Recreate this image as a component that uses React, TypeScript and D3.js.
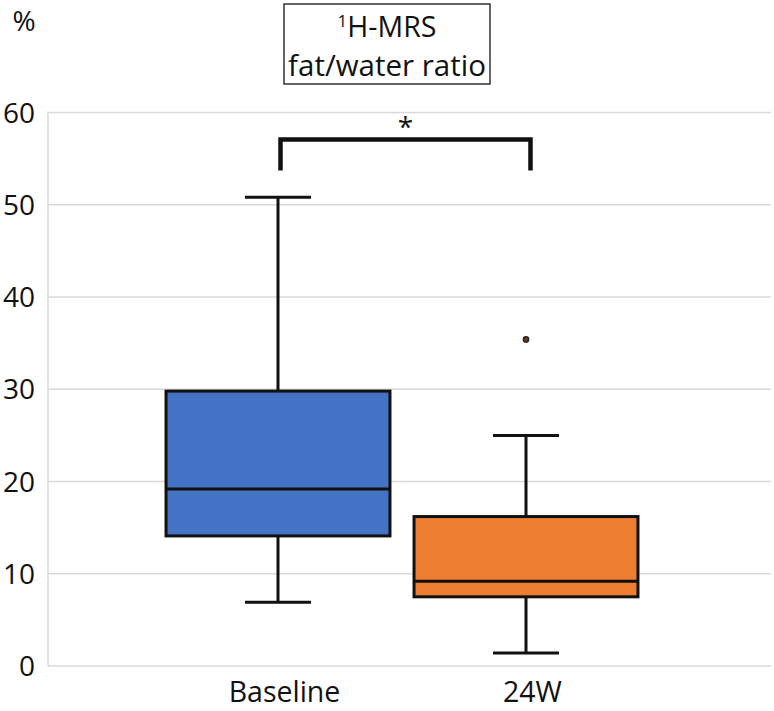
import React from "react";
import * as d3 from "d3";

const categories = ["Baseline", "24W"];
const mins = [6.9, 1.4];
const q1s = [14.1, 7.5];
const medians = [19.2, 9.2];
const q3s = [29.8, 16.2];
const maxs = [50.8, 25.0];
const outliers: number[][] = [[], [35.4]];
const colors = ["#4472C4", "#ED7D31"];
const yTicks = [0, 10, 20, 30, 40, 50, 60];

const W = 774;
const H = 711;
const FONT = "'Open Sans', 'Noto Sans', sans-serif";

export default function App() {
  const y = d3.scaleLinear().domain([0, 60]).range([666, 112.5]);
  const x = d3.scaleBand<string>().domain(categories).range([154, 650]).paddingInner(0).paddingOuter(0);
  const step = x.step();
  const boxW = step * 0.903;
  const capW = 66;
  const plotLeft = 48;
  const plotRight = 771;
  const cx = (c: string) => (x(c) as number) + step / 2;

  const bx1 = cx(categories[0]) + 2.5;
  const bx2 = cx(categories[1]) + 4.5;
  const bracketY = 139.5;
  const bracketBottom = 170.5;

  return (
    <svg width={W} height={H} style={{ position: "absolute", left: 0, top: 0, background: "#fff" }}>
      <rect x={0} y={0} width={W} height={H} fill="#fff" />
      {yTicks.map((t) => (
        <line key={t} x1={plotLeft} x2={plotRight} y1={y(t)} y2={y(t)} stroke="#d9d9d9" strokeWidth={1.5} />
      ))}
      <line x1={plotLeft} x2={plotLeft} y1={y(60)} y2={y(0)} stroke="#d9d9d9" strokeWidth={1.5} />
      {yTicks.map((t) => (
        <text key={t} x={35} y={y(t)} dy="0.36em" textAnchor="end" fontFamily={FONT} fontSize={28} fill="#111">
          {t}
        </text>
      ))}
      <text x={24} y={31} textAnchor="middle" fontFamily={FONT} fontSize={28} fill="#111">%</text>

      {categories.map((c, i) => {
        const m = cx(c);
        return (
          <g key={c}>
            <line x1={m} x2={m} y1={y(q3s[i])} y2={y(maxs[i])} stroke="#111" strokeWidth={3} />
            <line x1={m} x2={m} y1={y(q1s[i])} y2={y(mins[i])} stroke="#111" strokeWidth={3} />
            <line x1={m - capW / 2} x2={m + capW / 2} y1={y(maxs[i])} y2={y(maxs[i])} stroke="#111" strokeWidth={3} />
            <line x1={m - capW / 2} x2={m + capW / 2} y1={y(mins[i])} y2={y(mins[i])} stroke="#111" strokeWidth={3} />
            <rect x={m - boxW / 2} y={y(q3s[i])} width={boxW} height={y(q1s[i]) - y(q3s[i])} fill={colors[i]} stroke="#111" strokeWidth={3} />
            <line x1={m - boxW / 2} x2={m + boxW / 2} y1={y(medians[i])} y2={y(medians[i])} stroke="#111" strokeWidth={3} />
            {outliers[i].map((o, j) => (
              <circle key={j} cx={m} cy={y(o)} r={2.6} fill="#7a3a10" stroke="#222" strokeWidth={1.5} />
            ))}
            <text x={m + 6.5} y={702} textAnchor="middle" fontFamily={FONT} fontSize={28.5} fill="#111">{c}</text>
          </g>
        );
      })}

      <path
        d={`M${bx1},${bracketBottom}V${bracketY}H${bx2}V${bracketBottom}`}
        fill="none"
        stroke="#111"
        strokeWidth={4.5}
      />
      <text x={(bx1 + bx2) / 2} y={137} textAnchor="middle" fontFamily={FONT} fontSize={28} fill="#111">*</text>

      <rect x={284} y={4} width={206} height={80} fill="#fff" stroke="#333" strokeWidth={1.5} />
      <text x={387} y={37} textAnchor="middle" fontFamily={FONT} fontSize={28.5} fill="#111">
        <tspan fontSize={17} dy={-10}>1</tspan>
        <tspan dy={10}>H-MRS</tspan>
      </text>
      <text x={387} y={76} textAnchor="middle" fontFamily={FONT} fontSize={29.5} fill="#111">fat/water ratio</text>
    </svg>
  );
}
